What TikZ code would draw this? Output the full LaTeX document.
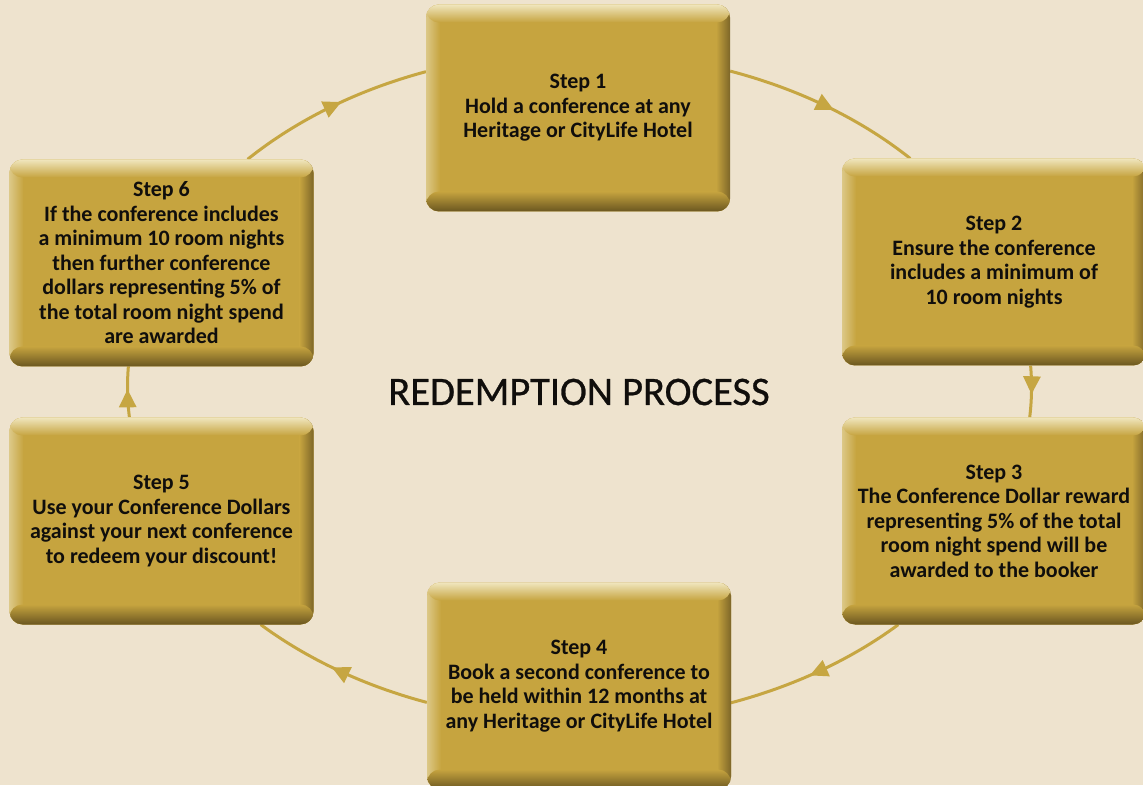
\documentclass[tikz,border=0pt]{standalone}
\usepackage{fontspec}
\setmainfont{Carlito}
\newfontfamily\titlefont{Carlito}[FakeBold=0.7]
\usetikzlibrary{arrows.meta,decorations.markings,backgrounds}
\definecolor{bgcol}{HTML}{EEE3CE}
\definecolor{boxcol}{HTML}{C6A43F}
\definecolor{boxhl}{HTML}{F0E6BE}
\definecolor{boxlt}{HTML}{DCC887}
\definecolor{boxdk}{HTML}{6A5620}
\definecolor{boxdkr}{HTML}{7D6628}
\definecolor{linecol}{HTML}{C6A642}
\definecolor{txtcol}{HTML}{100E0C}
\tikzset{
  stepbox/.style={rectangle, rounded corners=13pt, minimum width=304pt, minimum height=207pt,
    inner sep=0pt, align=center, text=txtcol, font=\fontsize{22}{24.5}\selectfont\bfseries,
    path picture={
      \fill[boxcol] (path picture bounding box.south west) rectangle (path picture bounding box.north east);
      \shade[left color=boxlt, right color=boxcol] (path picture bounding box.south west) rectangle ([xshift=14pt]path picture bounding box.north west);
      \shade[left color=boxcol, right color=boxdkr] ([xshift=-14pt]path picture bounding box.south east) rectangle (path picture bounding box.north east);
      \shade[top color=boxhl, bottom color=boxcol] ([yshift=-18pt]path picture bounding box.north west) rectangle (path picture bounding box.north east);
      \shade[top color=boxcol, bottom color=boxdk] ([yshift=20pt]path picture bounding box.south west) rectangle (path picture bounding box.south east);
    }},
  flow/.style={color=linecol, line width=3pt, postaction={decorate},
    decoration={markings, mark=at position 0.55 with {\arrow{Triangle[length=18pt,width=17pt]}}}},
  titletext/.style={font=\titlefont\fontsize{40.5}{44}\selectfont, text=txtcol, anchor=base}
}
\begin{document}
\begin{tikzpicture}[x=1pt,y=1pt]
\useasboundingbox (0,0) rectangle (1143,785);
\node[stepbox] (b1) at (578,677) {Step 1\\Hold a conference at any\\Heritage or CityLife Hotel};
\node[stepbox] (b2) at (994,523) {Step 2\\Ensure the conference\\includes a minimum of\\10 room nights};
\node[stepbox] (b3) at (994,264) {Step 3\\The Conference Dollar reward\\representing 5\% of the total\\room night spend will be\\awarded to the booker};
\node[stepbox] (b4) at (579,99) {Step 4\\Book a second conference to\\be held within 12 months at\\any Heritage or CityLife Hotel};
\node[stepbox] (b5) at (161.5,264) {Step 5\\Use your Conference Dollars\\against your next conference\\to redeem your discount!};
\node[stepbox] (b6) at (161.5,522) {Step 6\\If the conference includes\\a minimum 10 room nights\\then further conference\\dollars representing 5\% of\\the total room night spend\\are awarded};
\node[titletext] (title) at (579,380) {REDEMPTION PROCESS};
\begin{pgfonlayer}{background}
\fill[bgcol] (0,0) rectangle (1143,785);
\draw[flow] ([yshift=36.9pt]b1.east) arc[start angle=70.55, end angle=43.0, x radius=452pt, y radius=335pt];
\draw[flow] ([xshift=36.6pt]b2.south) arc[start angle=3.68, end angle=-5.22, x radius=452pt, y radius=335pt];
\draw[flow] ([xshift=-95.8pt]b3.south) arc[start angle=-45.15, end angle=-70.42, x radius=452pt, y radius=335pt];
\draw[flow] ([yshift=-16.4pt]b4.west) arc[start angle=-109.74, end angle=-134.85, x radius=452pt, y radius=335pt];
\draw[flow] ([xshift=-32.1pt]b5.north) arc[start angle=185.22, end angle=176.5, x radius=452pt, y radius=335pt];
\draw[flow] ([xshift=86.1pt]b6.north) arc[start angle=137.23, end angle=109.85, x radius=452pt, y radius=335pt];
\end{pgfonlayer}
\end{tikzpicture}
\end{document}
